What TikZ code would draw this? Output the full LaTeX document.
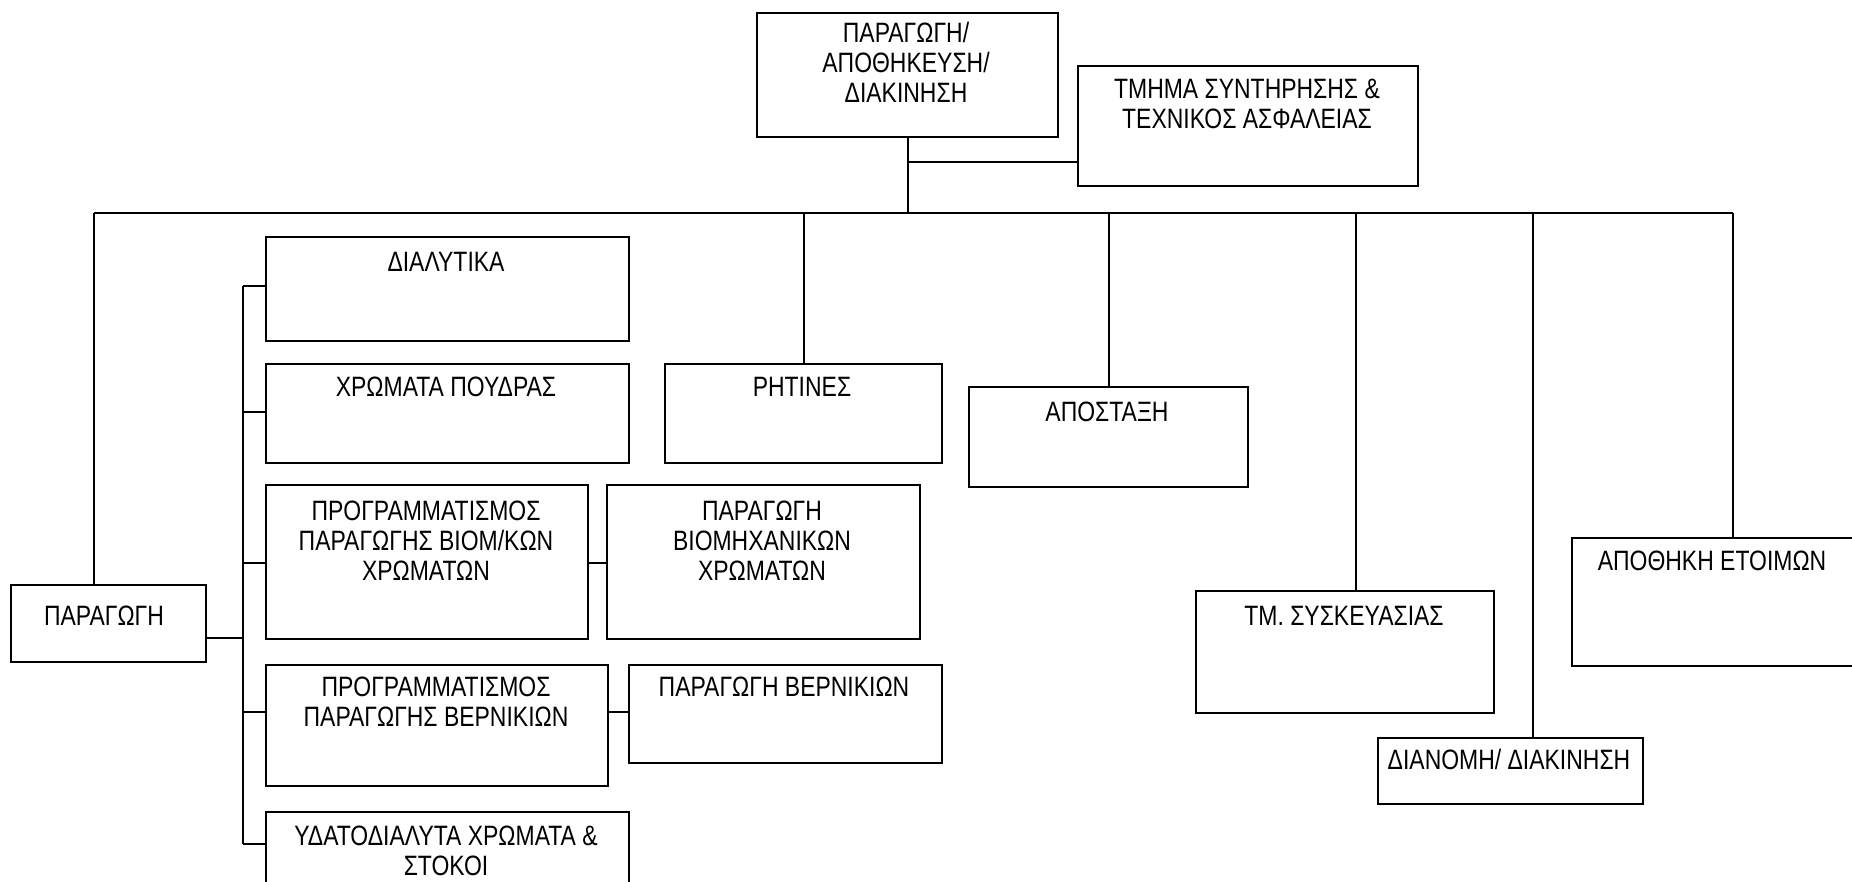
\documentclass[tikz,border=0pt]{standalone}
\usepackage{fontspec}
\setmainfont{Liberation Sans}[FakeStretch=0.82]
\begin{document}
\begin{tikzpicture}[x=1pt,y=-1pt,
  box/.style={draw, line width=2pt, rectangle, inner sep=0pt, anchor=north west},
  txt/.style={anchor=north, inner sep=0pt, align=center, font=\fontsize{28}{30}\selectfont},
  conn/.style={line width=2pt}]
\useasboundingbox (0,0) rectangle (1852,882);
\fill[white] (0,0) rectangle (1852,882);
% boxes
\node[box, minimum width=301pt, minimum height=124pt] (top) at (756,12) {};
\node[box, minimum width=340pt, minimum height=120pt] (tmima) at (1077,65) {};
\node[box, minimum width=195pt, minimum height=77pt] (paragogi) at (10,584) {};
\node[box, minimum width=363pt, minimum height=104pt] (dialytika) at (265,236) {};
\node[box, minimum width=363pt, minimum height=99pt] (xromata) at (265,363) {};
\node[box, minimum width=322pt, minimum height=154pt] (progbiom) at (265,484) {};
\node[box, minimum width=313pt, minimum height=154pt] (parbiom) at (606,484) {};
\node[box, minimum width=342pt, minimum height=121pt] (progvern) at (265,664) {};
\node[box, minimum width=313pt, minimum height=98pt] (parvern) at (628,664) {};
\node[box, minimum width=363pt, minimum height=100pt] (ydato) at (265,811) {};
\node[box, minimum width=277pt, minimum height=99pt] (ritines) at (664,363) {};
\node[box, minimum width=279pt, minimum height=100pt] (apostaxi) at (968,386) {};
\node[box, minimum width=298pt, minimum height=122pt] (syskeuasia) at (1195,590) {};
\node[box, minimum width=300pt, minimum height=128pt] (apothiki) at (1571,537) {};
\node[box, minimum width=265pt, minimum height=66pt] (dianomi) at (1377,737) {};
% texts
\node[txt] (top-t) at (906,22) {ΠΑΡΑΓΩΓΗ/\\ΑΠΟΘΗΚΕΥΣΗ/\\ΔΙΑΚΙΝΗΣΗ};
\node[txt] (tmima-t) at (1247,79) {ΤΜΗΜΑ ΣΥΝΤΗΡΗΣΗΣ \&\\ΤΕΧΝΙΚΟΣ ΑΣΦΑΛΕΙΑΣ};
\node[txt] (paragogi-t) at (104,606) {ΠΑΡΑΓΩΓΗ};
\node[txt] (dialytika-t) at (446,252) {ΔΙΑΛΥΤΙΚΑ};
\node[txt] (xromata-t) at (446,377) {ΧΡΩΜΑΤΑ ΠΟΥΔΡΑΣ};
\node[txt] (progbiom-t) at (426,501) {ΠΡΟΓΡΑΜΜΑΤΙΣΜΟΣ\\ΠΑΡΑΓΩΓΗΣ ΒΙΟΜ/ΚΩΝ\\ΧΡΩΜΑΤΩΝ};
\node[txt] (parbiom-t) at (762,501) {ΠΑΡΑΓΩΓΗ\\ΒΙΟΜΗΧΑΝΙΚΩΝ\\ΧΡΩΜΑΤΩΝ};
\node[txt] (progvern-t) at (436,677) {ΠΡΟΓΡΑΜΜΑΤΙΣΜΟΣ\\ΠΑΡΑΓΩΓΗΣ ΒΕΡΝΙΚΙΩΝ};
\node[txt] (parvern-t) at (784,677) {ΠΑΡΑΓΩΓΗ ΒΕΡΝΙΚΙΩΝ};
\node[txt] (ydato-t) at (446,826) {ΥΔΑΤΟΔΙΑΛΥΤΑ ΧΡΩΜΑΤΑ \&\\ΣΤΟΚΟΙ};
\node[txt] (ritines-t) at (802,377) {ΡΗΤΙΝΕΣ};
\node[txt] (apostaxi-t) at (1107,402) {ΑΠΟΣΤΑΞΗ};
\node[txt] (syskeuasia-t) at (1344,606) {ΤΜ. ΣΥΣΚΕΥΑΣΙΑΣ};
\node[txt] (apothiki-t) at (1712,551) {ΑΠΟΘΗΚΗ ΕΤΟΙΜΩΝ};
\node[txt] (dianomi-t) at (1509,749) {ΔΙΑΝΟΜΗ/ ΔΙΑΚΙΝΗΣΗ};
% connectors
\coordinate (bus) at (0,213);
\coordinate (tm) at (0,162);
\coordinate (spine) at (243,0);
\coordinate (busL) at (94,213);
\coordinate (busR) at (1733,213);
\draw[conn] (top.south) -- (top.south |- bus);
\draw[conn] (top.south |- tm) -- (tmima.west |- tm);
\draw[conn] (busL) -- (busR);
\draw[conn] (busL) -- (busL |- paragogi.north);
\draw[conn] (ritines.north) -- (ritines.north |- bus);
\draw[conn] (apostaxi.north) -- (apostaxi.north |- bus);
\draw[conn] (syskeuasia.north) ++(11,0) coordinate (sk) -- (sk |- bus);
\draw[conn] (dianomi.north) ++(22,0) coordinate (dn) -- (dn |- bus);
\draw[conn] (busR) -- (busR |- apothiki.north);
\coordinate (b1) at (0,286);
\coordinate (b2) at (0,412);
\coordinate (b3) at (0,563);
\coordinate (b4) at (0,712);
\coordinate (b5) at (0,844);
\coordinate (b0) at (0,638);
\draw[conn] (spine |- b1) -- (spine |- b5);
\draw[conn] (paragogi.east |- b0) -- (spine |- b0);
\draw[conn] (spine |- b1) -- (dialytika.west |- b1);
\draw[conn] (spine |- b2) -- (xromata.west |- b2);
\draw[conn] (spine |- b3) -- (progbiom.west |- b3);
\draw[conn] (spine |- b4) -- (progvern.west |- b4);
\draw[conn] (spine |- b5) -- (ydato.west |- b5);
\draw[conn] (progbiom.east |- b3) -- (parbiom.west |- b3);
\draw[conn] (progvern.east |- b4) -- (parvern.west |- b4);
\end{tikzpicture}
\end{document}
